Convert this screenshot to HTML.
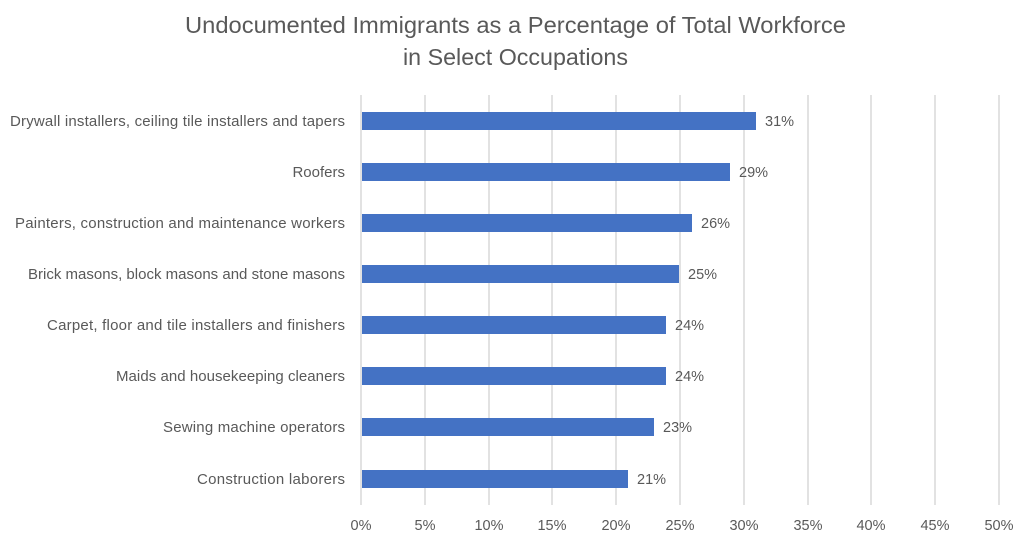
<!DOCTYPE html>
<html><head><meta charset="utf-8"><style>
body{margin:0;background:#fff;}
svg text{font-family:"Liberation Sans",sans-serif;fill:#595959;}
</style></head><body>
<svg width="1023" height="534" xmlns="http://www.w3.org/2000/svg">
<text x="185" y="33" font-size="23" textLength="661" lengthAdjust="spacingAndGlyphs">Undocumented Immigrants as a Percentage of Total Workforce</text>
<text x="403" y="65" font-size="23" textLength="225" lengthAdjust="spacingAndGlyphs">in Select Occupations</text>
<g stroke="#d9d9d9" stroke-width="1.5">
<line x1="361" y1="95" x2="361" y2="505"/><line x1="425" y1="95" x2="425" y2="505"/><line x1="489" y1="95" x2="489" y2="505"/><line x1="552" y1="95" x2="552" y2="505"/><line x1="616" y1="95" x2="616" y2="505"/><line x1="680" y1="95" x2="680" y2="505"/><line x1="744" y1="95" x2="744" y2="505"/><line x1="808" y1="95" x2="808" y2="505"/><line x1="871" y1="95" x2="871" y2="505"/><line x1="935" y1="95" x2="935" y2="505"/><line x1="999" y1="95" x2="999" y2="505"/>
</g>
<g fill="#4472c4">
<rect x="362" y="112" width="394" height="18"/>
<rect x="362" y="163" width="368" height="18"/>
<rect x="362" y="214" width="330" height="18"/>
<rect x="362" y="265" width="317" height="18"/>
<rect x="362" y="316" width="304" height="18"/>
<rect x="362" y="367" width="304" height="18"/>
<rect x="362" y="418" width="292" height="18"/>
<rect x="362" y="470" width="266" height="18"/>
</g>
<g font-size="14.5">
<text x="765" y="126">31%</text><text x="739" y="177">29%</text><text x="701" y="228">26%</text><text x="688" y="279">25%</text><text x="675" y="330">24%</text><text x="675" y="381">24%</text><text x="663" y="432">23%</text><text x="637" y="484">21%</text>
</g>
<g font-size="15" lengthAdjust="spacingAndGlyphs">
<text x="10" y="126" textLength="335">Drywall installers, ceiling tile installers and tapers</text>
<text x="345" y="177" text-anchor="end">Roofers</text>
<text x="15" y="228" textLength="330">Painters, construction and maintenance workers</text>
<text x="28" y="279" textLength="317">Brick masons, block masons and stone masons</text>
<text x="47" y="330" textLength="298">Carpet, floor and tile installers and finishers</text>
<text x="116" y="381" textLength="229">Maids and housekeeping cleaners</text>
<text x="163" y="432" textLength="182">Sewing machine operators</text>
<text x="197" y="484" textLength="148">Construction laborers</text>
</g>
<g font-size="14.5" text-anchor="middle">
<text x="361" y="530">0%</text><text x="425" y="530">5%</text><text x="489" y="530">10%</text><text x="552" y="530">15%</text><text x="616" y="530">20%</text><text x="680" y="530">25%</text><text x="744" y="530">30%</text><text x="808" y="530">35%</text><text x="871" y="530">40%</text><text x="935" y="530">45%</text><text x="999" y="530">50%</text>
</g>
</svg>
</body></html>
